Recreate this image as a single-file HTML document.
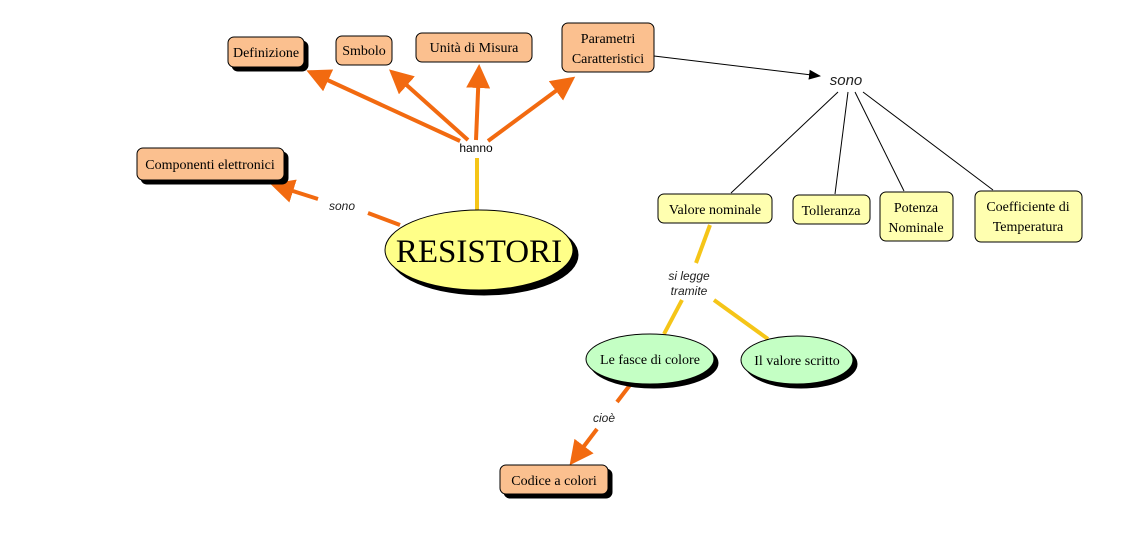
<!DOCTYPE html>
<html><head><meta charset="utf-8"><style>
html,body{margin:0;padding:0;background:#fff;}
svg{display:block;}
.t{font-family:"Liberation Serif",serif;font-size:14px;fill:#000;}
.l{font-family:"Liberation Sans",sans-serif;font-size:12px;font-style:italic;fill:#222;}
</style></head><body>
<svg width="1123" height="535" viewBox="0 0 1123 535" xmlns="http://www.w3.org/2000/svg">
<defs>
<marker id="ao" markerWidth="6" markerHeight="6" refX="5" refY="3" orient="auto" markerUnits="strokeWidth"><path d="M0,0 L6,3 L0,6 z" fill="#f26a10"/></marker>
<marker id="ab" markerWidth="12" markerHeight="10" refX="11" refY="5" orient="auto" markerUnits="userSpaceOnUse"><path d="M0,0 L12,5 L0,10 z" fill="#000"/></marker>
</defs>
<g stroke="#f26a10" stroke-width="4" fill="none">
<line x1="460" y1="141" x2="310" y2="72" marker-end="url(#ao)"/>
<line x1="468" y1="140" x2="392" y2="72" marker-end="url(#ao)"/>
<line x1="476" y1="140" x2="479" y2="68" marker-end="url(#ao)"/>
<line x1="488" y1="141" x2="572" y2="79" marker-end="url(#ao)"/>
<line x1="400" y1="225" x2="368" y2="213"/>
<line x1="318" y1="199" x2="274" y2="185" marker-end="url(#ao)"/>
<line x1="630" y1="385" x2="617" y2="402"/>
<line x1="597" y1="429" x2="572" y2="462" marker-end="url(#ao)"/>
</g>
<g stroke="#f5c518" stroke-width="4">
<line x1="477" y1="158" x2="477" y2="211"/>
<line x1="710" y1="225" x2="696" y2="263"/>
<line x1="682" y1="300" x2="664" y2="334"/>
<line x1="714" y1="300" x2="768" y2="339"/>
</g>
<g stroke="#000" stroke-width="1" fill="none">
<line x1="654" y1="56" x2="820" y2="76" marker-end="url(#ab)"/>
<line x1="838" y1="92" x2="731" y2="193"/>
<line x1="848" y1="92" x2="835" y2="194"/>
<line x1="855" y1="92" x2="904" y2="191"/>
<line x1="863" y1="92" x2="993" y2="190"/>
</g>
<text class="l" x="476" y="152" text-anchor="middle" style="font-style:normal;fill:#000">hanno</text>
<text class="l" x="342" y="210" text-anchor="middle">sono</text>
<text class="l" x="846" y="85" text-anchor="middle" style="font-size:15px">sono</text>
<text class="l" x="689" y="280" text-anchor="middle">si legge</text>
<text class="l" x="689" y="295" text-anchor="middle">tramite</text>
<text class="l" x="604" y="422" text-anchor="middle">cioè</text>
<!-- orange boxes -->
<g stroke="#000" stroke-width="1">
<rect x="232" y="41" width="76" height="30" rx="6" fill="#000"/>
<rect x="228" y="37" width="76" height="30" rx="6" fill="#fbc08f"/>
<rect x="336" y="36" width="56" height="29" rx="6" fill="#fbc08f"/>
<rect x="416" y="33" width="116" height="29" rx="6" fill="#fbc08f"/>
<rect x="562" y="23" width="92" height="49" rx="6" fill="#fbc08f"/>
<rect x="141" y="152" width="147" height="32" rx="6" fill="#000"/>
<rect x="137" y="148" width="147" height="32" rx="6" fill="#fbc08f"/>
<rect x="504" y="469" width="108" height="29" rx="6" fill="#000"/>
<rect x="500" y="465" width="108" height="29" rx="6" fill="#fbc08f"/>
<ellipse cx="484" cy="255" rx="94" ry="40" fill="#000"/>
<ellipse cx="479" cy="250" rx="94" ry="40" fill="#ffff88"/>
<rect x="658" y="194" width="114" height="29" rx="6" fill="#ffffb0"/>
<rect x="793" y="195" width="77" height="29" rx="6" fill="#ffffb0"/>
<rect x="880" y="192" width="73" height="49" rx="6" fill="#ffffb0"/>
<rect x="975" y="191" width="107" height="51" rx="6" fill="#ffffb0"/>
<ellipse cx="654" cy="363" rx="64" ry="25" fill="#000"/>
<ellipse cx="650" cy="359" rx="64" ry="25" fill="#c4ffc4"/>
<ellipse cx="801" cy="364" rx="56" ry="24" fill="#000"/>
<ellipse cx="797" cy="360" rx="56" ry="24" fill="#c4ffc4"/>
</g>
<text class="t" x="266" y="57" text-anchor="middle">Definizione</text>
<text class="t" x="364" y="55" text-anchor="middle">Smbolo</text>
<text class="t" x="474" y="52" text-anchor="middle">Unità di Misura</text>
<text class="t" x="608" y="43" text-anchor="middle">Parametri</text>
<text class="t" x="608" y="63" text-anchor="middle">Caratteristici</text>
<text class="t" x="210" y="169" text-anchor="middle">Componenti elettronici</text>
<text class="t" x="554" y="485" text-anchor="middle">Codice a colori</text>
<text x="479" y="262" text-anchor="middle" style="font-family:'Liberation Serif',serif;font-size:33px">RESISTORI</text>
<text class="t" x="715" y="214" text-anchor="middle">Valore nominale</text>
<text class="t" x="831" y="215" text-anchor="middle">Tolleranza</text>
<text class="t" x="916" y="212" text-anchor="middle">Potenza</text>
<text class="t" x="916" y="232" text-anchor="middle">Nominale</text>
<text class="t" x="1028" y="211" text-anchor="middle">Coefficiente di</text>
<text class="t" x="1028" y="231" text-anchor="middle">Temperatura</text>
<text class="t" x="650" y="364" text-anchor="middle">Le fasce di colore</text>
<text class="t" x="797" y="365" text-anchor="middle">Il valore scritto</text>
</svg>
</body></html>
